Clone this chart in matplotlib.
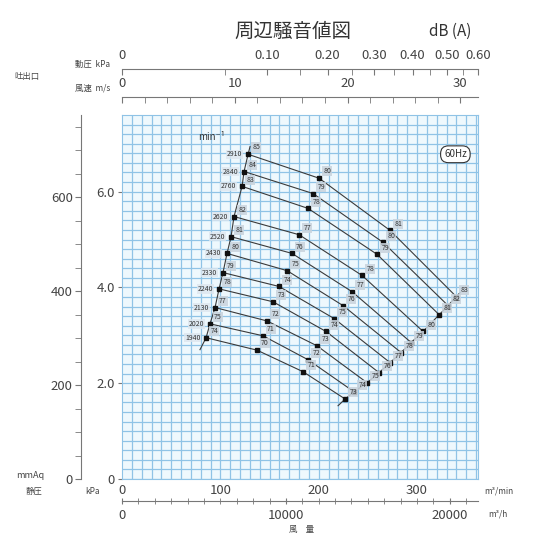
import numpy as np
import matplotlib.pyplot as plt

plt.rcParams['font.family'] = ['Liberation Sans Narrow', 'Noto Sans CJK JP', 'DejaVu Sans']

# 回転数 (min-1)
rpm = [2910, 2840, 2760, 2620, 2520, 2430, 2330, 2240, 2130, 2020, 1940]

# 各回転数の曲線上の点: 風量 m3/min, 静圧 kPa, 騒音値 dB(A)
q_pts = [[128.2, 200.4, 272.6, 339.8],
         [124.1, 194.3, 265.5, 331.6],
         [122.1, 189.2, 259.4, 322.5],
         [113.9, 180.1, 244.1, 306.2],
         [110.9, 172.9, 234.0, 294.0],
         [106.8, 167.9, 224.8, 283.8],
         [102.7, 159.7, 215.7, 272.6],
         [98.7, 153.6, 207.5, 261.4],
         [94.6, 147.5, 198.4, 249.2],
         [89.5, 143.4, 189.2, 236.0],
         [85.5, 137.3, 184.1, 226.9]]
p_pts = [[6.78, 6.28, 5.19, 3.81],
         [6.42, 5.96, 4.94, 3.62],
         [6.11, 5.65, 4.69, 3.43],
         [5.48, 5.10, 4.25, 3.08],
         [5.06, 4.71, 3.91, 2.85],
         [4.71, 4.35, 3.62, 2.64],
         [4.31, 4.02, 3.35, 2.43],
         [3.97, 3.70, 3.08, 2.22],
         [3.58, 3.30, 2.78, 2.01],
         [3.24, 2.99, 2.49, 1.82],
         [2.95, 2.69, 2.24, 1.67]]
db_pts = [[85, 80, 81, 83],
          [84, 79, 80, 82],
          [83, 78, 79, 81],
          [82, 77, 78, 80],
          [81, 76, 77, 79],
          [80, 75, 76, 78],
          [79, 74, 75, 77],
          [78, 73, 74, 76],
          [77, 72, 73, 75],
          [75, 71, 72, 74],
          [74, 70, 71, 73]]

# 境界線の延長端 (下端, 上端)
left_end_q = [79.3, 130.2]
left_end_p = [2.70, 6.94]
right_end_q = [219.7, 343.8]
right_end_p = [1.53, 3.89]

q_min_ticks = [0, 100, 200, 300]
q_h_ticks = [0, 10000, 20000]
v_ticks = [0, 10, 20, 30]
pd_ticks = [0.10, 0.20, 0.30, 0.40, 0.50, 0.60]
kpa_ticks = [0, 2, 4, 6]
mmaq_ticks = [0, 200, 400, 600]

area60 = 11.47   # 吐出口面積 x 60 (m3/min -> m/s)
rho = 1.2
qmax, pmax = 362, 7.6

W, H = 541, 540
fig = plt.figure(figsize=(W / 100, H / 100), dpi=100)


def fx(px):
    return px / W


def fy(py):
    return 1 - py / H


def v2q(v):
    return np.asarray(v, dtype=float) * area60


def pd2q(pd):
    return v2q(np.sqrt(np.asarray(pd) * 1000 / (0.5 * rho)))


x0, x1, y0, y1 = 122, 478, 479, 115
wf = fx(x1) - fx(x0)
txt = '#444444'
grid_c = '#8fc3e6'

# メインのグリッド
ax = fig.add_axes([fx(x0), fy(y0), wf, fy(y1) - fy(y0)])
ax.set_xlim(0, qmax)
ax.set_ylim(0, pmax)
ax.set_facecolor('#eef8fd')
ax.set_xticks([])
ax.set_xticks(np.arange(10, qmax, 10), minor=True)
ax.set_yticks(kpa_ticks, labels=['0', '2.0', '4.0', '6.0'])
ax.set_yticks(np.arange(0.2, pmax, 0.2), minor=True)
ax.grid(which='both', color=grid_c, lw=0.9)
ax.tick_params(axis='y', which='major', length=3, color='#777777', labelsize=9.5,
               labelcolor=txt, pad=2)
ax.tick_params(which='minor', length=0)
for s in ax.spines.values():
    s.set_color(grid_c)
ax.set_axisbelow(True)

# 曲線
for i in range(len(rpm)):
    ax.plot(q_pts[i], p_pts[i], color='#3a3a3a', lw=0.8, zorder=3)
    ax.plot(q_pts[i], p_pts[i], 's', color='#111111', ms=2.8, zorder=4)
    for j in range(4):
        ax.annotate(str(db_pts[i][j]), (q_pts[i][j], p_pts[i][j]), xytext=(3, 2),
                    textcoords='offset points', fontsize=5, color='#333333',
                    ha='left', va='bottom', zorder=5,
                    bbox=dict(boxstyle='square,pad=0.15', fc='#c9d3dc', ec='none', alpha=0.85))
    ax.annotate(str(rpm[i]), (q_pts[i][0], p_pts[i][0]), xytext=(-4, 0),
                textcoords='offset points', fontsize=5, color='#333333',
                ha='right', va='center', zorder=5,
                bbox=dict(boxstyle='square,pad=0.1', fc='#dde6ee', ec='none', alpha=0.8))

left_q = [left_end_q[0]] + [q[0] for q in q_pts][::-1] + [left_end_q[1]]
left_p = [left_end_p[0]] + [p[0] for p in p_pts][::-1] + [left_end_p[1]]
right_q = [right_end_q[0]] + [q[3] for q in q_pts][::-1] + [right_end_q[1]]
right_p = [right_end_p[0]] + [p[3] for p in p_pts][::-1] + [right_end_p[1]]
ax.plot(left_q, left_p, color='#3a3a3a', lw=0.8, zorder=3)
ax.plot(right_q, right_p, color='#3a3a3a', lw=0.8, zorder=3)

ax.text(77, 7.15, 'min⁻¹', fontsize=7, color='#333333', ha='left', va='center')
ax.text(339, 6.78, '60Hz', fontsize=7, color='#333333', ha='center', va='center',
        bbox=dict(boxstyle='round,pad=0.35,rounding_size=0.8', fc='white', ec='#333333', lw=0.8))

# 左側 mmAq 軸
axm = fig.add_axes([fx(x0), fy(y0), wf, fy(y1) - fy(y0)])
axm.patch.set_visible(False)
axm.set_ylim(0, pmax * 1000 / 9.80665)
axm.set_xticks([])
for k in ['top', 'right', 'bottom']:
    axm.spines[k].set_visible(False)
axm.spines['left'].set_position(('axes', -(x0 - 81) / (x1 - x0)))
axm.spines['left'].set_color('#777777')
axm.set_yticks(mmaq_ticks)
axm.set_yticks(np.arange(50, 776, 50), minor=True)
axm.tick_params(axis='y', which='both', length=4, color='#777777', labelsize=9.5,
                labelcolor=txt, pad=2)


def hline_axis(py, ticks_q, labels, minor_q, top_labels=True):
    a = fig.add_axes([fx(x0), fy(py), wf, 1e-6])
    a.patch.set_visible(False)
    a.set_xlim(0, qmax)
    a.set_yticks([])
    for k in ['left', 'right', 'bottom']:
        a.spines[k].set_visible(False)
    a.spines['top'].set_color('#777777')
    a.xaxis.set_ticks_position('top' if top_labels else 'bottom')
    a.set_xticks(ticks_q, labels=labels)
    a.set_xticks(minor_q, minor=True)
    a.tick_params(axis='x', which='both', direction='in' if top_labels else 'out',
                  length=4, color='#777777', labelsize=9.5, labelcolor=txt, pad=5)
    return a


# 上部: 動圧と風速
hline_axis(69, pd2q([0] + pd_ticks), ['0'] + ['%.2f' % p for p in pd_ticks],
           pd2q(np.arange(0.05, 0.61, 0.05)))
hline_axis(97, v2q(v_ticks), [str(v) for v in v_ticks], v2q(np.arange(2, 32, 2)))

# 下部: 風量
axq = hline_axis(501, np.array(q_h_ticks) / 60, [str(h) for h in q_h_ticks],
                 np.arange(1000, 22000, 1000) / 60, top_labels=False)
axq.tick_params(axis='x', which='both', direction='inout', length=5, pad=3)
sec = axq.secondary_xaxis('top')
sec.set_xticks(q_min_ticks, labels=[str(q) for q in q_min_ticks])
sec.spines['top'].set_visible(False)
sec.tick_params(axis='x', length=0, labelsize=9.5, labelcolor=txt, pad=3)

# 文字
fig.text(fx(293), fy(31), '周辺騒音値図', fontsize=14, color='#333333', ha='center', va='center')
fig.text(fx(450), fy(31), 'dB (A)', fontsize=11, color='#333333', ha='center', va='center')
fig.text(fx(110), fy(64), '動圧  kPa', fontsize=6, color=txt, ha='right', va='center')
fig.text(fx(110), fy(88), '風速  m/s', fontsize=6, color=txt, ha='right', va='center')
fig.text(fx(14), fy(77), '吐出口', fontsize=6, color=txt, ha='left', va='center')
fig.text(fx(44), fy(475), 'mmAq', fontsize=6.5, color=txt, ha='right', va='center')
fig.text(fx(34), fy(491), '静圧', fontsize=6, color=txt, ha='center', va='center')
fig.text(fx(100), fy(491), 'kPa', fontsize=6, color=txt, ha='right', va='center')
fig.text(fx(484), fy(491), 'm³/min', fontsize=6, color=txt, ha='left', va='center')
fig.text(fx(488), fy(514), 'm³/h', fontsize=6, color=txt, ha='left', va='center')
fig.text(fx(302), fy(529), '風　量', fontsize=6, color=txt, ha='center', va='center')

fig.savefig('out.png', dpi=100)
